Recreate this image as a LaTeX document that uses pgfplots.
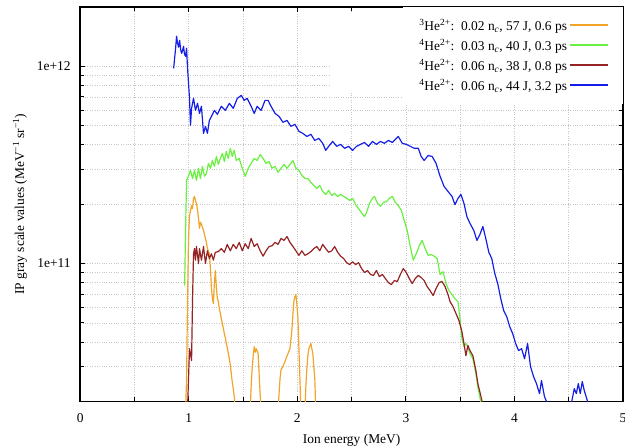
\documentclass[border=0pt]{standalone}
\usepackage{fontspec}
\setmainfont{Liberation Serif}
\usepackage{pgfplots}
\pgfplotsset{compat=1.18}
\definecolor{corange}{RGB}{240,165,40}
\definecolor{cgreen}{RGB}{105,240,65}
\definecolor{cbrown}{RGB}{150,35,35}
\definecolor{cblue}{RGB}{20,30,230}
\begin{document}
\newcommand{\fs}{\fontsize{13.5}{16}\selectfont}
\begin{tikzpicture}
\begin{axis}[
  scale only axis, width=545pt, height=396pt,
  at={(0,0)}, anchor=south west,
  xmin=0, xmax=5, ymode=log, ymin=2e10, ymax=2e12,
  xtick={0,1,2,3,4,5}, minor xtick={0.5,1.5,2.5,3.5,4.5},
  ytick={1e11,1e12}, yticklabels={1e+11,1e+12},
  minor ytick={3e10,4e10,5e10,6e10,7e10,8e10,9e10,2e11,3e11,4e11,5e11,6e11,7e11,8e11,9e11},
  /pgf/number format/assume math mode=true,
  tick align=inside,
  major tick length=5pt, minor tick length=4pt,
  tick style={black, line width=0.8pt},
  grid=both,
  major grid style={dotted, black!22, line width=0.6pt},
  minor grid style={dotted, black!22, line width=0.6pt},
  axis line style={line width=1.6pt},
  tick label style={font=\fs},
  xticklabel style={yshift=-9pt},
  yticklabel style={xshift=-6pt},
  label style={font=\fs},
  xlabel={Ion energy (MeV)},
  ylabel={IP gray scale values (MeV\textsuperscript{−1} sr\textsuperscript{−1})},
  xlabel style={yshift=-4pt},
  ylabel style={yshift=3pt},
  legend style={at={(1,1)}, anchor=north east, draw=none, fill=white, font=\fs,
    row sep=3pt, inner xsep=14pt, inner ysep=10pt},
  legend cell align=right,
  legend plot pos=right,
  legend image code/.code={\draw[#1, line width=2pt] (0pt,0.5pt) -- (38pt,0.5pt);},
]
\path[fill=white] (rel axis cs:0.46,0.783) rectangle (rel axis cs:0.989,0.986);
\addplot[corange, line width=1.2pt, line join=round] coordinates {
(0.950,1e10) (0.971,1.8e10) (0.980,2.61e10) (0.989,6.64e10) (0.998,1.34e11) (1.007,1.75e11)
(1.016,1.85e11) (1.026,1.97e11) (1.035,1.90e11) (1.044,2.14e11) (1.053,2.19e11) (1.062,2.08e11)
(1.071,2.02e11) (1.081,1.86e11) (1.090,1.70e11) (1.099,1.51e11) (1.108,1.62e11) (1.117,1.58e11)
(1.127,1.52e11) (1.136,1.47e11) (1.145,1.40e11) (1.154,1.34e11) (1.163,1.28e11) (1.172,1.19e11)
(1.181,1.16e11) (1.190,1.12e11) (1.200,9.43e10) (1.209,7.47e10) (1.218,6.64e10) (1.227,6.27e10)
(1.236,7.91e10) (1.245,9.21e10) (1.255,7.47e10) (1.264,6.64e10) (1.273,6.40e10) (1.282,5.91e10)
(1.291,5.60e10) (1.300,5.26e10) (1.310,4.95e10) (1.319,4.68e10) (1.328,4.40e10) (1.337,4.20e10)
(1.346,3.93e10) (1.355,3.75e10) (1.364,3.50e10) (1.374,3.29e10) (1.383,3.05e10) (1.392,2.77e10)
(1.401,2.50e10) (1.410,2.32e10) (1.420,2.10e10) (1.429,1.8e10) (1.440,1e10)
(1.556,1e10) (1.566,1.8e10) (1.575,2.40e10) (1.584,2.93e10) (1.594,3.40e10) (1.603,3.79e10)
(1.612,3.55e10) (1.621,3.70e10) (1.630,3.60e10) (1.639,3.49e10) (1.648,2.77e10) (1.657,2.2e10)
(1.667,1.8e10) (1.677,1e10)
(1.812,1e10) (1.822,1.8e10) (1.841,2.61e10) (1.850,2.90e10) (1.868,3.00e10) (1.877,3.10e10)
(1.896,3.29e10) (1.905,3.40e10) (1.914,3.49e10) (1.923,3.60e10) (1.932,3.70e10) (1.941,4.10e10)
(1.951,4.68e10) (1.960,5.60e10) (1.969,6.49e10) (1.978,6.80e10) (1.987,6.96e10) (1.996,6.20e10)
(2.005,5.38e10) (2.015,3.70e10) (2.024,2.61e10) (2.033,1.8e10) (2.043,1e10)
(2.060,1e10) (2.070,1.8e10) (2.079,2.40e10) (2.088,2.93e10) (2.097,3.40e10) (2.106,3.70e10)
(2.115,3.80e10) (2.125,3.93e10) (2.134,3.70e10) (2.143,3.49e10) (2.152,3.00e10) (2.161,2.61e10)
(2.170,1.8e10) (2.180,1e10)
};
\addlegendentry{\textsuperscript{3}He\textsuperscript{2+}:\ \ 0.02 n\textsubscript{\textit{c}}, 57 J, 0.6 ps}
\addplot[cgreen, line width=1.2pt, line join=round] coordinates {
(0.962,7.73e10) (0.971,1.51e11) (0.980,2.64e11) (0.998,2.77e11) (1.016,2.97e11) (1.035,2.70e11)
(1.053,2.97e11) (1.071,2.64e11) (1.090,3.04e11) (1.108,2.70e11) (1.126,3.11e11) (1.145,2.77e11)
(1.163,2.86e11) (1.181,3.22e11) (1.200,3.04e11) (1.218,3.33e11) (1.236,3.11e11) (1.255,3.49e11)
(1.273,3.18e11) (1.291,3.41e11) (1.310,3.62e11) (1.328,3.29e11) (1.346,3.70e11) (1.364,3.41e11)
(1.383,3.84e11) (1.401,3.49e11) (1.419,3.75e11) (1.438,3.33e11) (1.465,3.41e11) (1.493,3.04e11)
(1.520,2.77e11) (1.548,3.04e11) (1.575,3.22e11) (1.603,3.41e11) (1.630,3.33e11) (1.658,3.57e11)
(1.685,3.41e11) (1.712,3.22e11) (1.740,3.29e11) (1.767,3.04e11) (1.795,3.11e11) (1.822,2.90e11)
(1.850,3.04e11) (1.877,3.18e11) (1.905,3.04e11) (1.932,3.18e11) (1.960,3.33e11) (1.987,3.04e11)
(2.015,2.97e11) (2.042,2.80e11) (2.070,2.70e11) (2.097,2.70e11) (2.125,2.58e11) (2.152,2.49e11)
(2.179,2.40e11) (2.207,2.49e11) (2.234,2.32e11) (2.262,2.24e11) (2.289,2.35e11) (2.317,2.21e11)
(2.344,2.27e11) (2.372,2.19e11) (2.399,2.24e11) (2.427,2.19e11) (2.454,2.14e11) (2.482,2.09e11)
(2.509,2.14e11) (2.537,1.99e11) (2.564,1.90e11) (2.592,1.81e11) (2.619,1.73e11) (2.637,1.81e11)
(2.665,2.02e11) (2.692,2.14e11) (2.711,2.19e11) (2.738,2.02e11) (2.766,1.95e11) (2.793,2.04e11)
(2.821,2.06e11) (2.848,2.14e11) (2.875,2.19e11) (2.903,2.04e11) (2.930,1.97e11) (2.958,1.86e11)
(2.985,1.65e11) (3.013,1.47e11) (3.040,1.22e11) (3.068,1.04e11) (3.095,1.12e11) (3.123,1.23e11)
(3.150,1.31e11) (3.178,1.19e11) (3.205,1.10e11) (3.233,1.11e11) (3.260,1.09e11) (3.288,1.06e11)
(3.315,8.80e10) (3.342,9.10e10) (3.370,7.91e10) (3.397,7.29e10) (3.425,6.96e10) (3.452,6.64e10)
(3.480,6.41e10) (3.498,5.26e10) (3.516,4.16e10) (3.535,3.79e10) (3.553,3.93e10) (3.571,3.79e10)
(3.590,3.49e10) (3.617,3.29e10) (3.645,2.77e10) (3.663,2.37e10) (3.681,2.11e10) (3.700,1.84e10)
(3.710,1e10)
};
\addlegendentry{\textsuperscript{4}He\textsuperscript{2+}:\ \ 0.03 n\textsubscript{\textit{c}}, 40 J, 0.3 ps}
\addplot[cbrown, line width=1.2pt, line join=round] coordinates {
(0.980,1e10) (0.989,1.84e10) (0.998,2.61e10) (1.007,3.70e10) (1.016,3.49e10) (1.026,3.22e10)
(1.035,6.64e10) (1.044,1.12e11) (1.053,1.19e11) (1.062,1.04e11) (1.071,1.22e11) (1.090,1.00e11)
(1.099,1.19e11) (1.117,1.04e11) (1.136,1.22e11) (1.154,1.00e11) (1.172,1.16e11) (1.190,1.06e11)
(1.209,1.12e11) (1.227,1.04e11) (1.245,1.14e11) (1.273,1.15e11) (1.300,1.19e11) (1.328,1.14e11)
(1.355,1.25e11) (1.383,1.16e11) (1.410,1.25e11) (1.438,1.19e11) (1.465,1.28e11) (1.493,1.16e11)
(1.520,1.26e11) (1.548,1.19e11) (1.575,1.34e11) (1.603,1.22e11) (1.630,1.26e11) (1.658,1.16e11)
(1.685,1.09e11) (1.712,1.16e11) (1.740,1.22e11) (1.767,1.23e11) (1.795,1.28e11) (1.822,1.25e11)
(1.850,1.34e11) (1.877,1.31e11) (1.905,1.37e11) (1.932,1.28e11) (1.960,1.22e11) (1.987,1.16e11)
(2.015,1.10e11) (2.042,1.16e11) (2.070,1.10e11) (2.097,1.12e11) (2.125,1.15e11) (2.152,1.19e11)
(2.179,1.22e11) (2.207,1.16e11) (2.234,1.25e11) (2.262,1.19e11) (2.289,1.14e11) (2.317,1.16e11)
(2.344,1.22e11) (2.372,1.14e11) (2.399,1.09e11) (2.427,1.06e11) (2.454,1.01e11) (2.482,9.88e10)
(2.509,1.02e11) (2.537,9.88e10) (2.564,1.01e11) (2.592,9.43e10) (2.619,9.00e10) (2.647,9.21e10)
(2.674,8.80e10) (2.701,8.70e10) (2.729,9.21e10) (2.756,8.59e10) (2.784,8.80e10) (2.811,8.39e10)
(2.839,8.01e10) (2.866,7.82e10) (2.894,8.20e10) (2.921,8.11e10) (2.949,8.80e10) (2.976,9.43e10)
(3.004,9.00e10) (3.031,8.39e10) (3.059,7.91e10) (3.086,8.39e10) (3.114,8.70e10) (3.141,8.49e10)
(3.168,8.20e10) (3.196,7.64e10) (3.223,7.29e10) (3.251,6.88e10) (3.278,7.47e10) (3.306,8.01e10)
(3.333,8.11e10) (3.361,7.64e10) (3.388,6.96e10) (3.407,6.41e10) (3.434,6.05e10) (3.462,5.57e10)
(3.489,5.14e10) (3.516,4.52e10) (3.535,3.93e10) (3.553,3.41e10) (3.571,3.84e10) (3.590,3.62e10)
(3.617,3.41e10) (3.645,2.86e10) (3.663,2.46e10) (3.681,2.24e10) (3.700,2.02e10) (3.709,1.84e10)
(3.720,1e10)
};
\addlegendentry{\textsuperscript{4}He\textsuperscript{2+}:\ \ 0.06 n\textsubscript{\textit{c}}, 38 J, 0.8 ps}
\addplot[cblue, line width=1.2pt, line join=round] coordinates {
(0.861,9.77e11) (0.870,1.10e12) (0.879,1.234e12) (0.888,1.42e12) (0.897,1.309e12) (0.906,1.25e12)
(0.916,1.355e12) (0.925,1.22e12) (0.934,1.164e12) (0.943,1.20e12) (0.952,1.263e12) (0.961,1.15e12)
(0.971,1.124e12) (0.980,1.234e12) (0.989,9.77e11) (0.998,8.2e11) (1.007,6.88e11) (1.016,5.02e11)
(1.026,6.12e11) (1.044,6.88e11) (1.062,5.98e11) (1.081,6.49e11) (1.099,5.77e11) (1.117,6.27e11)
(1.136,4.57e11) (1.154,4.96e11) (1.172,4.57e11) (1.190,5.32e11) (1.209,5.57e11) (1.236,5.98e11)
(1.264,5.71e11) (1.300,6.27e11) (1.337,5.98e11) (1.374,6.49e11) (1.410,6.12e11) (1.447,6.88e11)
(1.484,7.12e11) (1.511,6.72e11) (1.538,6.88e11) (1.575,6.27e11) (1.603,5.77e11) (1.630,6.27e11)
(1.667,5.98e11) (1.703,6.72e11) (1.731,6.72e11) (1.758,6.27e11) (1.795,5.77e11) (1.832,5.57e11)
(1.868,5.20e11) (1.905,5.32e11) (1.941,4.96e11) (1.978,5.08e11) (2.015,4.68e11) (2.051,4.57e11)
(2.088,4.41e11) (2.125,4.52e11) (2.161,4.21e11) (2.198,4.31e11) (2.234,4.07e11) (2.262,3.75e11)
(2.289,3.93e11) (2.326,4.16e11) (2.363,3.93e11) (2.399,4.02e11) (2.436,3.84e11) (2.473,3.93e11)
(2.509,3.75e11) (2.546,3.93e11) (2.582,4.02e11) (2.619,4.11e11) (2.656,3.93e11) (2.692,4.16e11)
(2.729,4.02e11) (2.766,4.16e11) (2.802,4.07e11) (2.839,4.21e11) (2.875,4.11e11) (2.912,4.31e11)
(2.930,4.41e11) (2.967,4.07e11) (3.004,4.02e11) (3.040,3.93e11) (3.077,3.84e11) (3.114,3.84e11)
(3.141,3.49e11) (3.168,3.33e11) (3.205,3.53e11) (3.242,3.49e11) (3.278,3.22e11) (3.315,2.77e11)
(3.352,2.46e11) (3.388,2.32e11) (3.425,2.19e11) (3.452,1.99e11) (3.480,2.14e11) (3.507,2.24e11)
(3.535,2.02e11) (3.562,1.73e11) (3.590,1.60e11) (3.626,1.47e11) (3.654,1.31e11) (3.681,1.40e11)
(3.709,1.54e11) (3.736,1.34e11) (3.764,1.14e11) (3.791,1.06e11) (3.819,8.90e10) (3.846,7.91e10)
(3.874,6.64e10) (3.901,5.77e10) (3.929,5.38e10) (3.956,4.79e10) (3.984,4.41e10) (4.011,3.93e10)
(4.038,3.62e10) (4.066,3.70e10) (4.093,3.29e10) (4.121,3.93e10) (4.148,3.00e10) (4.176,2.67e10)
(4.203,2.46e10) (4.231,2.19e10) (4.249,2.55e10) (4.277,2.11e10) (4.304,1.95e10) (4.320,1e10)
(4.500,1e10) (4.524,1.95e10) (4.551,2.32e10) (4.570,2.19e10) (4.588,2.46e10) (4.606,2.19e10)
(4.625,2.52e10) (4.643,2.27e10) (4.661,2.11e10) (4.679,1.95e10) (4.700,1e10)
};
\addlegendentry{\textsuperscript{4}He\textsuperscript{2+}:\ \ 0.06 n\textsubscript{\textit{c}}, 44 J, 3.2 ps}
\end{axis}
\pgfresetboundingbox
\useasboundingbox ([xshift=-78pt,yshift=-46pt]current axis.south west) rectangle ([xshift=2pt,yshift=7pt]current axis.north east);
\end{tikzpicture}
\end{document}
